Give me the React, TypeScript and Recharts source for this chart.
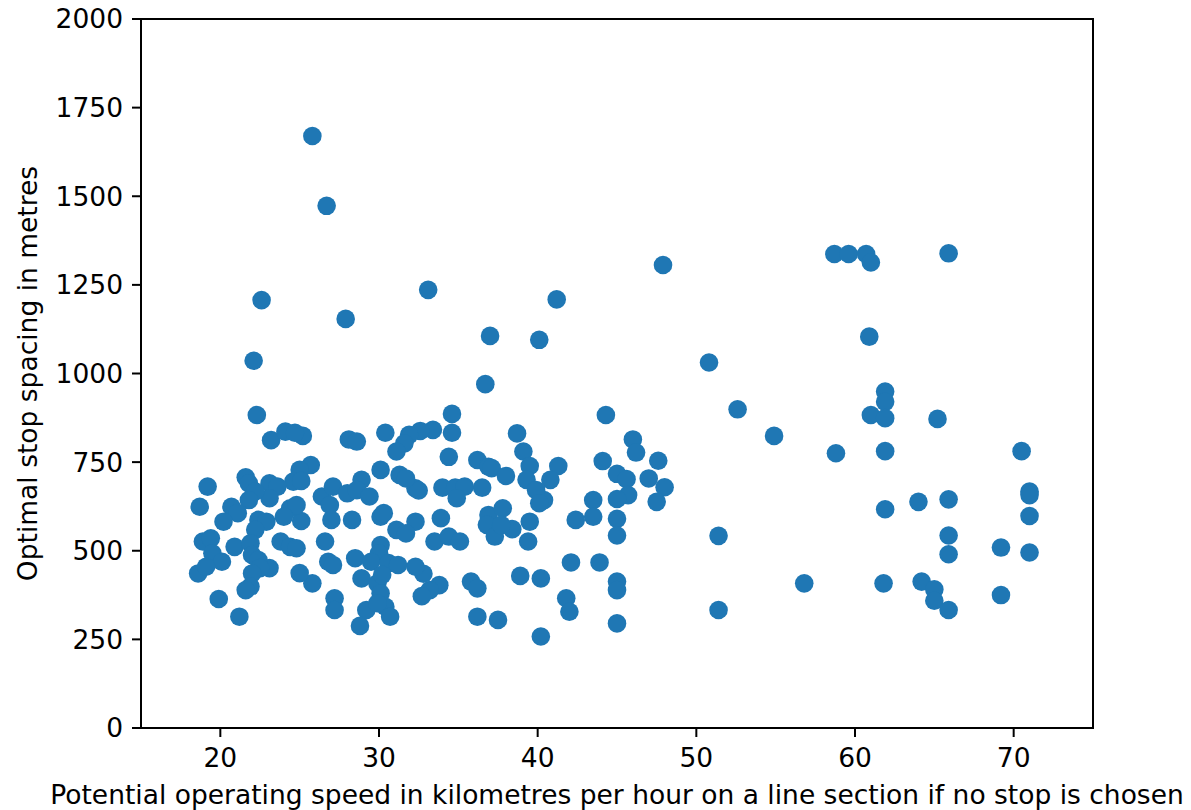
import { ScatterChart, Scatter, XAxis, YAxis, ReferenceArea, Label } from 'recharts';

// values (km/h, metres), paired by index
const speedKmh = [
  25.8, 26.7, 22.6, 27.9, 22.1, 33.1, 41.2, 37.0, 40.1, 36.7, 47.9,
  58.7, 59.6, 60.7, 61.0, 65.9, 60.9, 50.8, 52.6, 54.9, 58.8, 51.4, 56.8, 51.4,
  61.9, 61.9, 61.0, 61.9, 65.2, 61.9, 70.5, 71.0, 71.0, 71.0, 61.9, 64.0, 65.9,
  65.9, 65.9, 69.2, 71.0, 61.8, 64.2, 65.0, 65.0, 65.9, 69.2,
  44.3, 46.0, 46.2, 44.1, 47.6, 45.0, 45.6, 47.0, 48.0, 47.5, 45.7, 45.0, 43.5,
  43.5, 42.4, 45.0, 45.0, 41.3, 40.8, 40.4, 42.1, 43.9, 45.0, 45.0, 41.8, 42.0,
  45.0, 40.2, 40.2,
  34.6, 34.6, 33.4, 32.6, 31.9, 38.7, 39.1, 34.4, 36.2, 36.9, 37.1, 38.0, 39.5,
  39.3, 39.9, 40.1, 39.5, 39.4, 36.5, 34.0, 34.8, 35.4, 34.9, 32.3, 32.5, 36.9,
  37.8, 36.8, 37.3, 38.4, 37.7, 33.9, 33.5, 34.4, 35.1, 38.9, 35.8, 36.2, 33.8,
  33.2, 32.8, 32.7, 36.2, 37.5,
  30.4, 28.1, 28.6, 25.2, 31.6, 31.1, 25.7, 25.0, 30.1, 31.3, 31.7, 24.6, 25.1,
  26.4, 27.1, 28.9, 28.0, 28.6, 29.4, 26.9, 27.0, 28.3, 30.1, 25.1, 30.3, 32.3,
  31.1, 31.7, 30.1, 26.6, 28.5, 26.8, 27.1, 30.0, 29.5, 30.6, 31.2, 32.3, 28.9,
  29.9, 30.2, 25.8, 25.0, 27.2, 27.2, 30.1, 29.2, 30.4, 29.9, 30.7, 28.8,
  22.3, 23.2, 24.1, 24.7, 19.2, 21.6, 21.8, 23.1, 23.6, 23.1, 22.2, 21.8, 18.7,
  20.7, 21.1, 20.2, 22.4, 22.9, 22.2, 24.4, 24.8, 24.0, 18.9, 19.4, 20.9, 21.9,
  22.0, 19.5, 20.1, 23.8, 24.4, 24.8, 23.1, 22.4, 22.5, 18.6, 19.1, 22.0, 21.9,
  21.6, 19.9, 21.2,
];

const spacingM = [
  1670, 1473, 1207, 1154, 1036, 1236, 1209, 1106, 1095, 970, 1306,
  1337, 1337, 1337, 1313, 1339, 1104, 1031, 899, 824, 775, 542, 408, 333,
  949, 920, 883, 874, 872, 781, 781, 667, 657, 598, 617, 638, 645,
  543, 490, 509, 495, 408, 413, 391, 359, 333, 375,
  883, 814, 777, 753, 754, 717, 702, 704, 679, 638, 657, 646, 643,
  596, 587, 590, 543, 739, 700, 643, 467, 467, 413, 389, 366, 328,
  295, 422, 258,
  886, 833, 841, 838, 827, 831, 780, 765, 756, 737, 733, 711, 739,
  700, 671, 634, 582, 526, 678, 678, 678, 681, 648, 676, 670, 601,
  620, 573, 540, 561, 573, 592, 526, 540, 526, 429, 413, 394, 403,
  389, 435, 372, 314, 305,
  833, 814, 808, 824, 803, 780, 742, 728, 728, 714, 704, 695, 697,
  653, 681, 700, 662, 671, 653, 629, 587, 587, 596, 584, 606, 582,
  559, 549, 516, 526, 479, 469, 460, 493, 469, 465, 460, 455, 422,
  408, 432, 408, 437, 366, 333, 380, 333, 342, 352, 314, 288,
  883, 812, 836, 833, 681, 707, 690, 690, 681, 648, 667, 643, 624,
  624, 606, 582, 587, 582, 559, 620, 629, 596, 526, 535, 511, 521,
  488, 493, 469, 526, 511, 507, 451, 474, 451, 436, 455, 436, 399,
  389, 364, 314,
];

const xTicks = [20, 30, 40, 50, 60, 70];
const yTicks = [0, 250, 500, 750, 1000, 1250, 1500, 1750, 2000];

const xLabel = 'Potential operating speed in kilometres per hour on a line section if no stop is chosen';
const yLabel = 'Optimal stop spacing in metres';

const FONT = '"DejaVu Sans", sans-serif';
const FS = 26.5;
const BLUE = '#1f77b4';

const XTitle = (props: any) => {
  const vb = props.viewBox || { x: 141, y: 728, width: 952, height: 82 };
  return (
    <text x={vb.x + vb.width / 2} y={vb.y + 76} textAnchor="middle" fontFamily={FONT} fontSize={FS} fill="#000">
      {xLabel}
    </text>
  );
};

const YTitle = (props: any) => {
  const vb = props.viewBox || { x: 0, y: 19, width: 141, height: 709 };
  const cx = 37;
  const cy = vb.y + vb.height / 2;
  return (
    <text x={cx} y={cy} textAnchor="middle" fontFamily={FONT} fontSize={FS} fill="#000" transform={`rotate(-90, ${cx}, ${cy})`}>
      {yLabel}
    </text>
  );
};

export default function App() {
  const points = speedKmh.map((x, i) => ({ x, y: spacingM[i] }));
  const tickStyle = { fill: '#000', fontSize: FS, fontFamily: FONT };

  return (
    <div style={{ position: 'absolute', left: 0, top: 0, width: 1191, height: 810, background: '#fff' }}>
      <ScatterChart width={1191} height={810} margin={{ top: 19, right: 98, bottom: 0, left: 0 }}>
        <XAxis
          type="number"
          dataKey="x"
          domain={[15, 75]}
          ticks={xTicks}
          allowDataOverflow
          height={82}
          tick={tickStyle}
          tickSize={9}
          tickMargin={11}
          tickLine={{ stroke: '#000', strokeWidth: 2 }}
          axisLine={{ stroke: '#000', strokeWidth: 2 }}
        >
          <Label content={XTitle} />
        </XAxis>
        <YAxis
          type="number"
          dataKey="y"
          domain={[0, 2000]}
          ticks={yTicks}
          allowDataOverflow
          width={141}
          tick={tickStyle}
          tickSize={9}
          tickMargin={9}
          tickLine={{ stroke: '#000', strokeWidth: 2 }}
          axisLine={{ stroke: '#000', strokeWidth: 2 }}
        >
          <Label content={YTitle} />
        </YAxis>
        <ReferenceArea x1={15} x2={75} y1={0} y2={2000} fill="none" stroke="#000" strokeWidth={2} />
        <Scatter
          data={points}
          isAnimationActive={false}
          shape={(p: any) => <circle cx={p.cx} cy={p.cy} r={9.3} fill={BLUE} />}
        />
      </ScatterChart>
    </div>
  );
}
